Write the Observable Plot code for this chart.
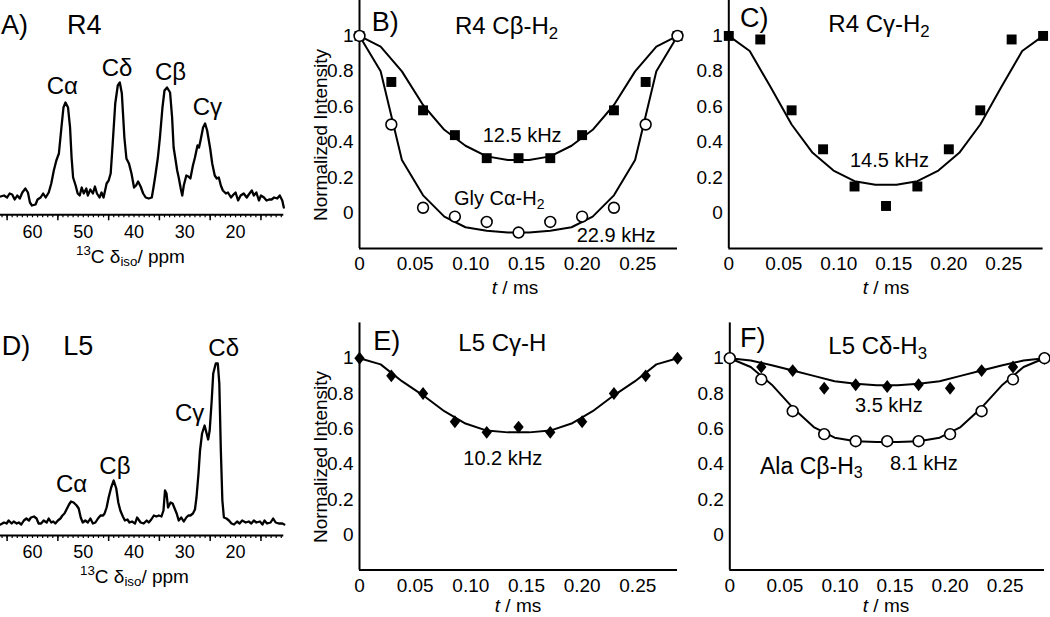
<!DOCTYPE html>
<html><head><meta charset="utf-8">
<script src="https://cdn.jsdelivr.net/npm/d3@7"></script>
<script src="https://cdn.jsdelivr.net/npm/@observablehq/plot@0.6"></script>
<style>
body{margin:0;background:#fff;}
#fig{position:relative;width:1050px;height:617px;overflow:hidden;font-family:"Liberation Sans",Arial,sans-serif;color:#000;background:#fff;}
.panel{position:absolute;}
.panel svg{overflow:visible;}
.lab{position:absolute;white-space:nowrap;line-height:1;transform:translate(0,-50%);}
.lab.c{transform:translate(-50%,-50%);}
.lab.rot{transform:translate(-50%,-50%) rotate(-90deg);}
.lab sub{font-size:0.7em;vertical-align:-0.3em;line-height:0;}
.lab sup{font-size:0.7em;vertical-align:0.55em;line-height:0;}
</style></head><body><div id="fig"></div>
<script>
// ---------- data ----------
// 13C spectra (ppm, relative intensity)
const specR4 = [[66.3,0.01],[65.6,0.02],[65.0,0.00],[64.5,0.04],[64.0,0.03],[63.5,-0.02],[63.0,0.02],[62.5,-0.01],[62.0,0.05],[61.4,0.09],[60.9,0.05],[60.5,-0.05],[60.1,-0.08],[59.4,-0.07],[59.0,-0.02],[58.4,0.00],[57.9,0.04],[57.4,0.00],[56.8,0.05],[56.3,0.14],[55.8,0.27],[55.3,0.37],[54.8,0.44],[54.3,0.70],[53.9,0.90],[53.5,0.95],[53.0,0.90],[52.6,0.70],[52.3,0.40],[52.0,0.20],[51.5,0.12],[51.1,0.04],[50.7,0.02],[50.3,0.10],[49.9,0.04],[49.4,0.09],[49.1,0.02],[48.6,0.08],[48.1,0.04],[47.7,0.11],[47.3,0.04],[46.8,0.00],[46.4,0.05],[46.0,0.00],[45.4,0.14],[45.0,0.17],[44.6,0.24],[44.2,0.54],[43.7,0.94],[43.2,1.12],[42.8,1.15],[42.4,1.04],[41.9,0.60],[41.5,0.39],[41.0,0.34],[40.5,0.24],[40.0,0.10],[39.6,0.12],[39.2,0.16],[38.7,0.11],[38.2,0.04],[37.7,0.00],[37.1,-0.01],[36.5,0.00],[36.2,0.09],[35.8,0.22],[35.3,0.40],[34.9,0.60],[34.4,0.90],[34.0,1.07],[33.5,1.10],[32.9,1.05],[32.5,0.80],[32.2,0.50],[31.8,0.37],[31.5,0.27],[31.2,0.20],[30.8,0.09],[30.5,0.02],[30.2,0.12],[29.7,0.22],[29.3,0.21],[28.9,0.19],[28.4,0.32],[28.0,0.40],[27.5,0.52],[27.2,0.50],[26.9,0.57],[26.4,0.70],[26.0,0.74],[25.6,0.67],[25.0,0.49],[24.6,0.34],[24.1,0.22],[23.7,0.19],[23.3,0.20],[22.9,0.12],[22.5,0.07],[21.9,0.04],[21.5,0.05],[20.9,0.00],[20.4,0.03],[20.0,0.05],[19.5,-0.03],[19.0,0.02],[18.4,0.04],[17.8,0.00],[17.4,0.03],[16.8,0.07],[16.4,0.02],[15.9,0.05],[15.4,-0.03],[15.0,0.02],[14.4,0.00],[13.9,-0.03],[13.4,-0.02],[12.9,-0.02],[12.4,0.00],[11.8,-0.01],[11.3,0.02],[10.8,-0.03],[10.5,-0.10]];
const specL5 = [[66.3,-0.02],[65.6,0.00],[65.1,-0.01],[64.7,0.02],[64.1,-0.01],[63.7,0.01],[63.1,-0.01],[62.7,0.00],[62.2,-0.02],[61.7,0.02],[61.2,0.04],[60.7,0.02],[60.3,0.05],[59.7,0.06],[59.2,0.04],[58.8,-0.01],[58.3,-0.01],[57.8,0.02],[57.2,0.00],[56.8,0.04],[56.3,0.00],[55.9,0.01],[55.5,-0.01],[55.0,0.02],[54.5,0.04],[54.1,0.07],[53.7,0.09],[53.3,0.13],[52.8,0.18],[52.4,0.21],[51.9,0.20],[51.3,0.17],[50.9,0.14],[50.5,0.05],[50.1,0.00],[49.6,0.02],[49.1,0.00],[48.6,0.04],[48.1,-0.01],[47.6,0.00],[47.1,0.04],[46.6,0.07],[46.1,0.07],[45.8,0.09],[45.4,0.15],[45.0,0.25],[44.5,0.35],[44.0,0.42],[43.5,0.34],[43.1,0.20],[42.7,0.12],[42.2,0.06],[41.8,0.02],[41.3,0.03],[40.9,0.00],[40.4,0.01],[39.8,-0.01],[39.4,0.05],[38.7,0.00],[38.1,-0.01],[37.5,0.02],[37.1,0.00],[36.6,0.03],[36.1,0.07],[35.6,0.06],[35.1,0.07],[34.6,0.06],[34.2,0.12],[33.9,0.32],[33.6,0.29],[33.3,0.15],[32.8,0.20],[32.4,0.19],[32.0,0.14],[31.6,0.09],[31.2,0.02],[30.7,0.05],[30.2,0.01],[29.7,0.05],[29.3,0.07],[28.9,0.07],[28.4,0.09],[28.0,0.13],[27.7,0.25],[27.3,0.49],[27.0,0.72],[26.6,0.89],[26.1,0.97],[25.7,0.89],[25.4,0.83],[25.1,0.92],[24.7,1.22],[24.4,1.49],[23.9,1.59],[23.5,1.59],[23.2,1.39],[22.9,0.72],[22.6,0.22],[22.3,0.05],[21.8,0.04],[21.3,0.02],[20.8,-0.01],[20.3,-0.02],[19.7,0.01],[19.2,-0.01],[18.7,0.02],[18.0,0.00],[17.4,0.01],[16.9,-0.01],[16.4,0.02],[15.9,0.00],[15.2,0.01],[14.7,-0.02],[14.3,0.02],[13.8,-0.01],[13.1,0.00],[12.6,0.04],[12.1,0.00],[11.5,-0.01],[10.8,-0.01],[10.4,-0.02]];

// dephasing times (ms) and normalized intensities
const tDwell = [0, 0.0286, 0.0571, 0.0857, 0.1143, 0.1429, 0.1714, 0.2000, 0.2286, 0.2571, 0.2857];
const R4Cb  = [1.00, 0.74, 0.58, 0.44, 0.31, 0.31, 0.31, 0.44, 0.58, 0.74, 1.00];
const GlyCa = [1.00, 0.50, 0.03, -0.02, -0.05, -0.11, -0.05, -0.02, 0.03, 0.50, 1.00];
const R4Cg  = [1.00, 0.98, 0.58, 0.36, 0.15, 0.04, 0.15, 0.36, 0.58, 0.98, 1.00];
const L5Cg  = [1.00, 0.90, 0.80, 0.64, 0.58, 0.61, 0.58, 0.64, 0.80, 0.90, 1.00];
const L5Cd  = [1.00, 0.95, 0.93, 0.83, 0.85, 0.84, 0.85, 0.83, 0.93, 0.95, 1.00];
const AlaCb = [1.00, 0.88, 0.70, 0.57, 0.53, 0.53, 0.53, 0.57, 0.70, 0.88, 1.00];

// best-fit curves
const tFit = [0, 0.0190, 0.0381, 0.0571, 0.0762, 0.0952, 0.1143, 0.1333, 0.1524, 0.1714, 0.1905, 0.2095, 0.2286, 0.2476, 0.2667, 0.2857];
const fitR4Cb  = [1.00, 0.94, 0.80, 0.61, 0.47, 0.38, 0.32, 0.30, 0.30, 0.32, 0.38, 0.47, 0.61, 0.80, 0.94, 1.00];
const fitGlyCa = [1.00, 0.80, 0.30, 0.10, -0.02, -0.08, -0.10, -0.11, -0.11, -0.10, -0.08, -0.02, 0.10, 0.30, 0.80, 1.00];
const fitR4Cg  = [1.00, 0.915, 0.71, 0.50, 0.34, 0.24, 0.18, 0.16, 0.16, 0.18, 0.24, 0.34, 0.50, 0.71, 0.915, 1.00];
const fitL5Cg  = [1.00, 0.965, 0.87, 0.79, 0.70, 0.63, 0.59, 0.58, 0.58, 0.59, 0.63, 0.70, 0.79, 0.87, 0.965, 1.00];
const fitL5Cd  = [1.00, 0.987, 0.96, 0.93, 0.90, 0.87, 0.855, 0.847, 0.847, 0.855, 0.87, 0.90, 0.93, 0.96, 0.987, 1.00];
const fitAlaCb = [1.00, 0.95, 0.85, 0.72, 0.61, 0.55, 0.53, 0.525, 0.525, 0.53, 0.55, 0.61, 0.72, 0.85, 0.95, 1.00];

// ticks
const ppmTicks = [60, 50, 40, 30, 20];
const ppmMajor = [65, 55, 45, 35, 25, 15];
const ppmMinor = d3.range(11, 67);
const tTicks = [0, 0.05, 0.10, 0.15, 0.20, 0.25];
const yTicks = [0, 0.2, 0.4, 0.6, 0.8, 1];

// ---------- drawing ----------
const fig = document.getElementById("fig");
const FONT = "'Liberation Sans', Arial, sans-serif";
function place(node, left, top) {
  const d = document.createElement("div");
  d.className = "panel";
  d.style.left = left + "px"; d.style.top = top + "px";
  d.appendChild(node); fig.appendChild(d);
}
function lab(html, x, y, size, cls) {
  const d = document.createElement("div");
  d.className = "lab" + (cls ? " " + cls : "");
  d.style.left = x + "px"; d.style.top = y + "px"; d.style.fontSize = size + "px";
  d.innerHTML = html; fig.appendChild(d);
}
const pairs = (xs, ys) => xs.map((t, i) => ({t, v: ys[i]}));
const fmtY = d => d === 0 ? "0" : d === 1 ? "1" : d.toFixed(1);
const fmtT = d => d === 0 ? "0" : d.toFixed(2);
const diamond = {draw(ctx, size) { const h = Math.sqrt(size / 1.6), w = 0.8 * h;
  ctx.moveTo(0, -h); ctx.lineTo(w, 0); ctx.lineTo(0, h); ctx.lineTo(-w, 0); ctx.closePath(); }};

function spectrum(data, left, top, h, mt, mb, yDom) {
  const rows = data.map(([p, v]) => ({p, v}));
  const svg = Plot.plot({
    width: 290, height: h, marginLeft: 0, marginRight: 6.7, marginTop: mt, marginBottom: mb,
    x: {domain: [66.3, 10.5]}, y: {domain: yDom},
    style: {fontSize: "18px", fontFamily: FONT, background: "transparent", overflow: "visible"},
    marks: [
      Plot.axisX({ticks: ppmMinor, tickSize: 3, tickFormat: () => "", label: null, strokeWidth: 1.2}),
      Plot.axisX({ticks: ppmMajor, tickSize: 6, tickFormat: () => "", label: null, strokeWidth: 1.5}),
      Plot.axisX({ticks: ppmTicks, tickSize: 0, tickPadding: 10, tickFormat: d => String(d), label: null}),
      Plot.axisY({ticks: [], label: null}),
      Plot.ruleY([yDom[0]], {strokeWidth: 2}),
      Plot.line(rows, {x: "p", y: "v", stroke: "#000", strokeWidth: 2.3, strokeLinejoin: "round"})
    ]
  });
  place(svg, left, top);
}

function decay(left, top, w, h, ml, mr, mt, mb, extra) {
  const svg = Plot.plot({
    width: w, height: h, marginLeft: ml, marginRight: mr, marginTop: mt, marginBottom: mb,
    x: {domain: [0, 0.2857]}, y: {domain: [-0.2, 1.2]},
    style: {fontSize: "19px", fontFamily: FONT, background: "transparent", overflow: "visible"},
    marks: [
      Plot.axisX({ticks: tTicks, tickSize: 0, tickPadding: 8, tickFormat: fmtT, label: null}),
      Plot.axisY({ticks: yTicks, tickSize: 0, tickPadding: 6, tickFormat: fmtY, label: null}),
      Plot.ruleX([0], {y1: -0.2, y2: 1.2, strokeWidth: 2}),
      Plot.ruleY([-0.2], {x1: 0, x2: 0.2857, strokeWidth: 2}),
      ...extra
    ]
  });
  place(svg, left, top);
}
const fitLine = ys => Plot.line(pairs(tFit, ys), {x: "t", y: "v", stroke: "#000", strokeWidth: 2});
const squares = ys => Plot.dot(pairs(tDwell, ys), {x: "t", y: "v", symbol: "square", r: 5.6, fill: "#000", stroke: "none"});
const circles = ys => Plot.dot(pairs(tDwell, ys), {x: "t", y: "v", symbol: "circle", r: 5.4, fill: "#fff", stroke: "#000", strokeWidth: 1.6});
const diamonds = ys => Plot.dot(pairs(tDwell, ys), {x: "t", y: "v", symbol: diamond, r: 4.6, fill: "#000", stroke: "none"});

// A and D spectra
spectrum(specR4, 0, 0, 300, 67, 85.7, [-0.173, 1.3]);
spectrum(specL5, 0, 310, 307, 37, 82, [-0.13, 1.75]);
// B, C, E, F
decay(300, 0, 380, 300, 59, 3, 0, 52, [fitLine(fitR4Cb), fitLine(fitGlyCa), squares(R4Cb), circles(GlyCa)]);
decay(680, 0, 370, 300, 48.3, 7.4, 0, 52, [fitLine(fitR4Cg), squares(R4Cg)]);
decay(300, 310, 380, 307, 59, 3, 12.4, 47.4, [fitLine(fitL5Cg), diamonds(L5Cg)]);
decay(680, 310, 370, 307, 49.3, 6, 12.4, 47.4, [fitLine(fitL5Cd), fitLine(fitAlaCb), diamonds(L5Cd), circles(AlaCb)]);

// ---------- text ----------
lab("A)", 1, 24.7, 27); lab("R4", 67, 24.7, 27);
lab("C&alpha;", 46.7, 85.7, 24); lab("C&delta;", 101.7, 68, 24); lab("C&beta;", 155, 72.3, 24); lab("C&gamma;", 192.7, 107.2, 24);
lab("<sup>13</sup>C &delta;<sub>iso</sub>/ ppm", 76, 256, 19);

lab("D)", 1.7, 345.8, 27); lab("L5", 63.3, 345.8, 27);
lab("C&alpha;", 56, 484.2, 24); lab("C&beta;", 99.3, 466.2, 24); lab("C&gamma;", 175, 412.5, 24); lab("C&delta;", 208.3, 347.5, 24);
lab("<sup>13</sup>C &delta;<sub>iso</sub>/ ppm", 80, 576, 19);

lab("B)", 371.7, 21.7, 27); lab("R4 C&beta;-H<sub>2</sub>", 455, 25.8, 24);
lab("12.5 kHz", 482.7, 135, 20); lab("Gly C&alpha;-H<sub>2</sub>", 454, 198.3, 20); lab("22.9 kHz", 576.7, 235, 20);
lab("Normalized Intensity", 320, 135, 19, "rot");
lab("<i>t</i> / ms", 515, 287, 19, "c");

lab("C)", 740, 17.8, 27); lab("R4 C&gamma;-H<sub>2</sub>", 828.3, 24.2, 24);
lab("14.5 kHz", 850, 160, 20);
lab("<i>t</i> / ms", 886, 287, 19, "c");

lab("E)", 373.3, 340.5, 27); lab("L5 C&gamma;-H", 458.3, 343.3, 24);
lab("10.2 kHz", 463.3, 458.3, 20);
lab("Normalized Intensity", 320, 457, 19, "rot");
lab("<i>t</i> / ms", 518, 605, 19, "c");

lab("F)", 740, 337.5, 27); lab("L5 C&delta;-H<sub>3</sub>", 828.3, 345.8, 24);
lab("3.5 kHz", 855, 405, 20); lab("Ala C&beta;-H<sub>3</sub>", 760, 465.8, 23); lab("8.1 kHz", 890, 463, 20);
lab("<i>t</i> / ms", 886, 605, 19, "c");
</script>
</body></html>
